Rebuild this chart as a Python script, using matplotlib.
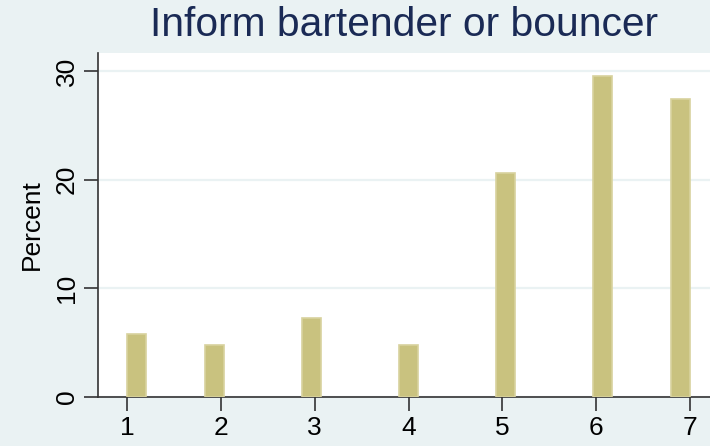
import numpy as np
import matplotlib
matplotlib.use('Agg')
import matplotlib.pyplot as plt

plt.rcParams['font.family'] = ['Liberation Sans', 'DejaVu Sans']

# response categories and percent of respondents
categories = [1, 2, 3, 4, 5, 6, 7]
percents = [5.77, 4.78, 7.27, 4.78, 20.6, 29.53, 27.4]
yticks = [0, 10, 20, 30]
title = 'Inform bartender or bouncer'

bg = '#EAF2F3'
bins = np.linspace(1, 7, 30)

fig = plt.figure(figsize=(7.10, 4.46), dpi=100, facecolor=bg)
ax = fig.add_axes([98/710, 49/446, 612/710, 344/446])
ax.set_facecolor('white')

# stata-style histogram: 29 bins over 1..7, only non-empty bins drawn
heights, edges = np.histogram(categories, bins=bins, weights=percents)
keep = heights > 0
ax.bar(edges[:-1][keep], heights[keep], width=np.diff(edges)[keep], align='edge',
       facecolor='#C9C27F', edgecolor='#D8D29E', linewidth=1.2, zorder=3)

ax.set_xlim(0.691, 7.213)
ax.set_ylim(0, 31.65)
ax.set_yticks(yticks)
ax.set_xticks(categories)
ax.yaxis.grid(True, color=bg, linewidth=1.6, zorder=0)
ax.set_axisbelow(True)

for s in ['top', 'right']:
    ax.spines[s].set_visible(False)
for s in ['left', 'bottom']:
    ax.spines[s].set_color('#333333')
    ax.spines[s].set_linewidth(1.2)

ax.tick_params(axis='both', direction='out', length=10, width=1.2,
               color='#333333', labelsize=19, pad=4)
for lab in ax.get_yticklabels():
    lab.set_rotation(90)
    lab.set_va('center')

ax.set_ylabel('Percent', fontsize=19, labelpad=8)
fig.text(404/710, 1 - 25/446, title, ha='center', va='center', fontsize=29.3,
         color='#1A2A55')

plt.savefig('out.png', dpi=100, facecolor=bg)
plt.close()
